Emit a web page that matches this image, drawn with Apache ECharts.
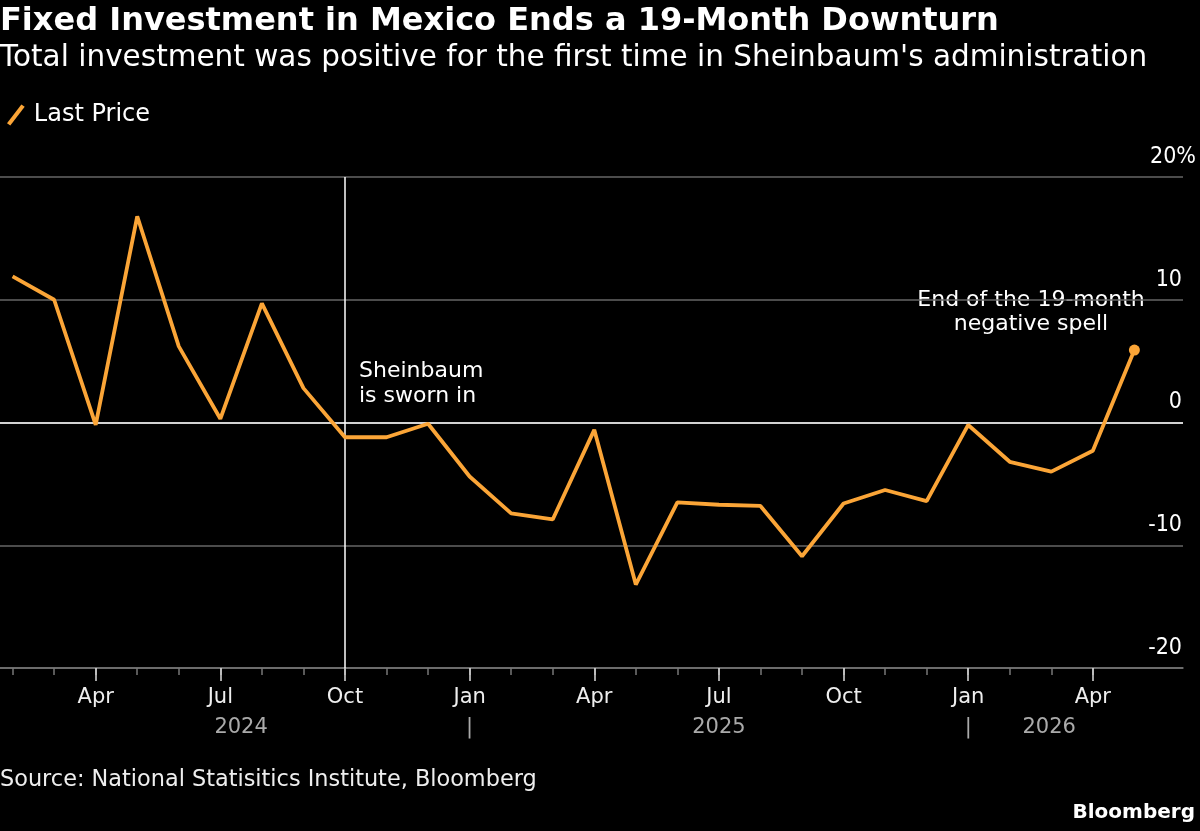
<!DOCTYPE html>
<html>
<head>
<meta charset="utf-8">
<script src="https://cdn.jsdelivr.net/npm/echarts@6/dist/echarts.min.js"></script>
<style>
html,body{margin:0;padding:0;background:#000;}
#c{width:1200px;height:831px;}
</style>
</head>
<body>
<div id="c"></div>
<script>
// ---- data ----
const months = ['2024-02','2024-03','2024-04','2024-05','2024-06','2024-07','2024-08','2024-09','2024-10','2024-11','2024-12',
  '2025-01','2025-02','2025-03','2025-04','2025-05','2025-06','2025-07','2025-08','2025-09','2025-10','2025-11','2025-12',
  '2026-01','2026-02','2026-03','2026-04','2026-05'];
const values = [11.9, 10.0, -0.2, 16.8, 6.2, 0.3, 9.7, 2.8, -1.2, -1.2, -0.1,
  -4.4, -7.4, -7.9, -0.6, -13.2, -6.5, -6.7, -6.8, -10.9, -6.6, -5.5, -6.4,
  -0.2, -3.2, -4.0, -2.3, 5.9];
const monthNames = ['Jan','Feb','Mar','Apr','May','Jun','Jul','Aug','Sep','Oct','Nov','Dec'];
const yTicks = [-20, -10, 0, 10, 20];
const years = ['2024', '2025', '2026'];
const seriesName = 'Last Price';
const swornIn = '2024-10';

// ---- layout helpers ----
const yearLabelPos = [5.5, 17, 24.95];
const idx = months.map((m, i) => i);
const monthOf = m => parseInt(m.slice(5), 10);
const quarterIdx = idx.filter(i => [1,4,7,10].includes(monthOf(months[i])));
const minorIdx = idx.slice(0, months.length - 1);
const yearStartIdx = idx.filter(i => monthOf(months[i]) === 1);
const yearAxisVals = yearLabelPos.concat(yearStartIdx);
const yearAxisText = {};
yearLabelPos.forEach((p, k) => yearAxisText[p.toFixed(2)] = years[k]);
yearStartIdx.forEach(p => yearAxisText[p.toFixed(2)] = '|');

const ORANGE = '#fba537';
const FONT = 'DejaVu Sans';
const XMIN = -0.303, XMAX = 28.17;

const chart = echarts.init(document.getElementById('c'), null, {renderer: 'canvas'});
const baseX = {type: 'value', min: XMIN, max: XMAX, position: 'bottom', splitLine: {show: false}};

chart.setOption({
  backgroundColor: '#000',
  animation: false,
  grid: {left: 0, right: 17, top: 177, bottom: 163, containLabel: false},
  legend: {
    left: 2, top: 98, itemWidth: 18, itemHeight: 21, itemGap: 10,
    icon: 'path://M0,17 L3,19 L16,2 L13,0 Z',
    textStyle: {color: '#fff', fontSize: 24, fontFamily: FONT, padding: [0,0,0,4]},
    data: [{name: seriesName, itemStyle: {color: ORANGE}}]
  },
  xAxis: [
    Object.assign({}, baseX, {
      axisLine: {show: true, onZero: false, lineStyle: {color: '#777', width: 1.5}},
      axisTick: {show: true, length: 7, customValues: minorIdx, lineStyle: {color: '#777', width: 1.5}},
      axisLabel: {show: false}
    }),
    Object.assign({}, baseX, {
      axisLine: {show: false, onZero: false},
      axisTick: {show: true, length: 13, customValues: quarterIdx, lineStyle: {color: '#ddd', width: 1.5}},
      axisLabel: {
        show: true, customValues: quarterIdx, margin: 19,
        color: '#eee', fontSize: 21, fontFamily: FONT,
        formatter: v => monthNames[monthOf(months[Math.round(v)]) - 1]
      }
    }),
    Object.assign({}, baseX, {
      axisLine: {show: false, onZero: false},
      axisTick: {show: false},
      axisLabel: {
        show: true, customValues: yearAxisVals, margin: 49,
        color: '#aaa', fontSize: 21, fontFamily: FONT,
        formatter: v => yearAxisText[Number(v).toFixed(2)] || ''
      }
    })
  ],
  yAxis: {
    type: 'value', position: 'right', min: -20, max: 20, interval: 10,
    axisLine: {show: false}, axisTick: {show: false},
    splitLine: {show: true, lineStyle: {color: '#666', width: 1.5}},
    axisLabel: {
      show: true, inside: false, align: 'right', margin: 13,
      verticalAlign: 'bottom', padding: [0, 0, 7, 0], lineHeight: 26,
      color: '#fff', fontSize: 23, fontFamily: 'DejaVu Sans Condensed',
      customValues: yTicks,
      formatter: v => v === 20 ? '20%' : v + '{i|}',
      rich: {i: {width: 14, fontSize: 23}}
    }
  },
  series: [{
    name: seriesName, type: 'line', xAxisIndex: 0,
    data: values.map((v, i) => i === values.length - 1
      ? {value: [i, v], symbol: 'circle', symbolSize: 11, itemStyle: {color: ORANGE}}
      : [i, v]),
    showSymbol: true, symbol: 'none',
    lineStyle: {color: ORANGE, width: 3.8},
    itemStyle: {color: ORANGE},
    z: 5,
    markLine: {
      silent: true, symbol: 'none', label: {show: false}, animation: false,
      data: [
        {yAxis: 0, lineStyle: {color: '#fff', width: 1.5, type: 'solid'}},
        {xAxis: months.indexOf(swornIn), lineStyle: {color: '#fff', width: 1.5, type: 'solid'}}
      ]
    }
  }],
  graphic: [
    {type: 'text', left: 0, top: 6, style: {text: 'Fixed Investment in Mexico Ends a 19-Month Downturn', fill: '#fff', font: 'bold 32px "DejaVu Sans"'}},
    {type: 'text', left: 0, top: 43, style: {text: "Total investment was positive for the first time in Sheinbaum's administration", fill: '#fff', font: '29.5px "DejaVu Sans"'}},
    {type: 'text', left: 359, top: 359, style: {text: 'Sheinbaum\nis sworn in', fill: '#fff', font: '22px "DejaVu Sans"', lineHeight: 25}},
    {type: 'text', x: 1031, y: 288, style: {text: 'End of the 19-month\nnegative spell', fill: '#fff', font: '22px "DejaVu Sans"', lineHeight: 24, align: 'center', verticalAlign: 'top'}},
    {type: 'text', left: 0, top: 769, style: {text: 'Source: National Statisitics Institute, Bloomberg', fill: '#eee', font: '22.4px "DejaVu Sans"'}},
    {type: 'text', right: 5, top: 803, style: {text: 'Bloomberg', fill: '#fff', font: 'bold 20px "DejaVu Sans"'}}
  ]
});
</script>
</body>
</html>
